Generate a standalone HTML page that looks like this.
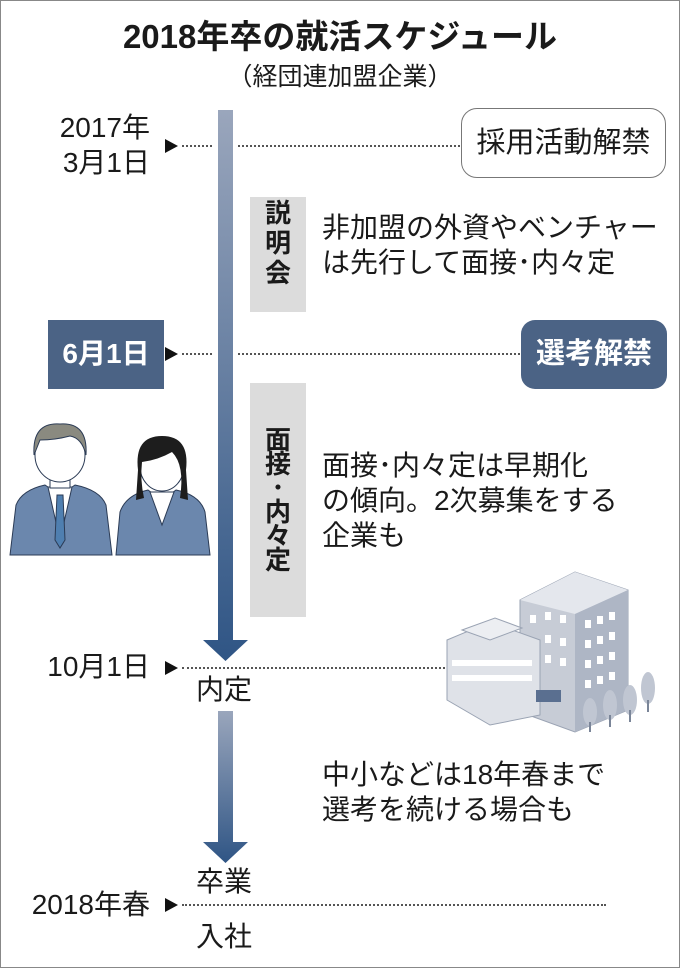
<!DOCTYPE html>
<html><head><meta charset="utf-8"><style>
*{margin:0;padding:0;box-sizing:border-box}
body{width:680px;height:968px;background:#fff;position:relative;overflow:hidden;font-family:"Liberation Sans","Noto Sans CJK JP",sans-serif;color:#1a1a1a}
.frame{position:absolute;left:0;top:0;width:680px;height:968px;border:1px solid #888}
.t{position:absolute;white-space:nowrap;line-height:1}
.dot{position:absolute;height:0;border-top:2px dotted #555}
.tri{position:absolute;width:0;height:0;border-top:7px solid transparent;border-bottom:7px solid transparent;border-left:13px solid #111}
.gbox{position:absolute;background:#dcdcdc;}
.vt{position:absolute;font-weight:bold;font-size:26px;text-align:center;width:56px}
</style></head><body>
<div class="frame"></div>
<div class="t" style="left:0;width:680px;text-align:center;top:20px;font-size:33px;font-weight:bold">2018年卒の就活スケジュール</div>
<div class="t" style="left:0;width:680px;text-align:center;top:65px;font-size:25px">（経団連加盟企業）</div>

<svg style="position:absolute;left:0;top:0" width="680" height="968">
<defs>
<linearGradient id="g1" x1="0" y1="0" x2="0" y2="1"><stop offset="0" stop-color="#9aa6bc"/><stop offset="1" stop-color="#2f5585"/></linearGradient>
<linearGradient id="g2" x1="0" y1="0" x2="0" y2="1"><stop offset="0" stop-color="#9aa6bc"/><stop offset="1" stop-color="#2f5585"/></linearGradient>
</defs>
<path d="M218 110 H233 V640 H248 L225.5 661 L203 640 H218 Z" fill="url(#g1)"/>
<path d="M218 711 H233 V842 H248 L225.5 863 L203 842 H218 Z" fill="url(#g2)"/>
<g>
<path d="M10 555 L16 505 Q22 490 45 485 L60 495 L75 485 Q100 490 106 505 L112 555 Z" fill="#6b87ad" stroke="#2b3b55"/>
<path d="M48 487 L60 540 L72 487 Z" fill="#fff" stroke="#2b3b55"/>
<path d="M57 495 L63 495 L65 540 L60 548 L55 540 Z" fill="#4f7fb0" stroke="#2b3b55"/>
<rect x="50" y="470" width="20" height="18" fill="#fff" stroke="#2b3b55"/>
<ellipse cx="60" cy="455" rx="25" ry="27" fill="#fff" stroke="#2b3b55"/>
<path d="M34 455 Q32 422 60 424 Q88 422 86 455 Q82 438 70 436 Q55 440 40 440 Z" fill="#8a8a80" stroke="#2b3b55"/>
<path d="M116 555 L120 512 Q126 495 148 490 L162 500 L176 490 Q200 495 205 512 L210 555 Z" fill="#6b87ad" stroke="#2b3b55"/>
<path d="M150 492 L162 525 L174 492 Z" fill="#fff" stroke="#2b3b55"/>
<ellipse cx="162" cy="466" rx="22" ry="25" fill="#fff" stroke="#2b3b55"/>
<path d="M138 470 Q134 436 162 436 Q190 436 186 470 L188 500 L180 498 Q185 465 172 452 Q158 460 142 462 Q140 480 144 498 L136 500 Z" fill="#1d1d1d"/>
</g>
<g>
<path d="M520 600 L575 572 L628 590 L628 710 L575 732 L520 712 Z" fill="#c7ccd6" stroke="#9aa3b3"/>
<path d="M520 600 L575 572 L628 590 L575 614 Z" fill="#e4e7ed"/>
<path d="M575 614 L628 590 L628 710 L575 732 Z" fill="#aeb6c5"/>
<path d="M447 640 L490 622 L540 640 L540 715 L490 725 L447 700 Z" fill="#dfe2e8" stroke="#9aa3b3"/>
<path d="M462 630 L495 618 L522 628 L490 640 Z" fill="#eceef2" stroke="#9aa3b3"/>
<rect x="452" y="660" width="80" height="6" fill="#fff"/>
<rect x="452" y="675" width="80" height="6" fill="#fff"/>
<rect x="536" y="690" width="25" height="12" fill="#5a6f90"/>
<g fill="#fff">
<rect x="585" y="620" width="6" height="8"/><rect x="597" y="616" width="6" height="8"/><rect x="609" y="612" width="6" height="8"/>
<rect x="585" y="640" width="6" height="8"/><rect x="597" y="636" width="6" height="8"/><rect x="609" y="632" width="6" height="8"/>
<rect x="585" y="660" width="6" height="8"/><rect x="597" y="656" width="6" height="8"/><rect x="609" y="652" width="6" height="8"/>
<rect x="585" y="680" width="6" height="8"/><rect x="597" y="676" width="6" height="8"/><rect x="609" y="672" width="6" height="8"/>
<rect x="530" y="615" width="6" height="8"/><rect x="545" y="612" width="6" height="8"/><rect x="560" y="615" width="6" height="8"/>
<rect x="545" y="635" width="6" height="8"/><rect x="560" y="638" width="6" height="8"/>
<rect x="545" y="655" width="6" height="8"/><rect x="560" y="658" width="6" height="8"/>
</g>
<ellipse cx="648" cy="688" rx="7" ry="16" fill="#c0c6d2"/><rect x="647" y="700" width="2" height="12" fill="#7a8598"/>
<ellipse cx="630" cy="700" rx="7" ry="15" fill="#c0c6d2"/><rect x="629" y="710" width="2" height="12" fill="#7a8598"/>
<ellipse cx="610" cy="705" rx="7" ry="15" fill="#c0c6d2"/><rect x="609" y="715" width="2" height="12" fill="#7a8598"/>
<ellipse cx="590" cy="712" rx="7" ry="14" fill="#c0c6d2"/><rect x="589" y="722" width="2" height="10" fill="#7a8598"/>
</g>
</svg>

<div class="t" style="left:20px;width:130px;text-align:right;top:110px;font-size:28px;line-height:35px">2017年<br>3月1日</div>
<div class="tri" style="left:165px;top:139px"></div>
<div class="dot" style="left:182px;top:145px;width:30px"></div>
<div class="dot" style="left:238px;top:145px;width:222px"></div>
<div style="position:absolute;left:461px;top:108px;width:205px;height:70px;border:1px solid #777;border-radius:16px"></div>
<div class="t" style="left:461px;width:205px;text-align:center;top:129px;font-size:29px">採用活動解禁</div>

<div class="gbox" style="left:250px;top:197px;width:56px;height:115px"></div>
<div class="vt" style="left:250px;top:198px;line-height:30px">説<br>明<br>会</div>
<div class="t" style="left:322px;top:210px;font-size:28px;line-height:35px">非加盟の外資やベンチャー<br>は先行して面接･内々定</div>

<div style="position:absolute;left:48px;top:320px;width:116px;height:69px;background:#4b6385"></div>
<div class="t" style="left:48px;width:116px;text-align:center;top:340px;font-size:28px;font-weight:bold;color:#fff">6月1日</div>
<div class="tri" style="left:165px;top:347px"></div>
<div class="dot" style="left:182px;top:353px;width:30px"></div>
<div class="dot" style="left:238px;top:353px;width:282px"></div>
<div style="position:absolute;left:521px;top:320px;width:146px;height:69px;background:#4b6385;border-radius:14px"></div>
<div class="t" style="left:521px;width:146px;text-align:center;top:340px;font-size:29px;font-weight:bold;color:#fff">選考解禁</div>

<div class="gbox" style="left:250px;top:383px;width:56px;height:234px"></div>
<div class="vt" style="left:250px;top:428px;line-height:24px">面<br>接<br>･<br>内<br>々<br>定</div>
<div class="t" style="left:322px;top:448px;font-size:28px;line-height:35px">面接･内々定は早期化<br>の傾向。2次募集をする<br>企業も</div>

<div class="t" style="left:20px;width:130px;text-align:right;top:653px;font-size:28px">10月1日</div>
<div class="tri" style="left:165px;top:661px"></div>
<div class="dot" style="left:182px;top:667px;width:263px"></div>
<div class="t" style="left:196px;top:676px;font-size:28px">内定</div>

<div class="t" style="left:322px;top:757px;font-size:28px;line-height:35px">中小などは18年春まで<br>選考を続ける場合も</div>

<div class="t" style="left:196px;top:868px;font-size:28px">卒業</div>
<div class="t" style="left:0px;width:150px;text-align:right;top:891px;font-size:28px">2018年春</div>
<div class="tri" style="left:165px;top:898px"></div>
<div class="dot" style="left:182px;top:904px;width:424px"></div>
<div class="t" style="left:196px;top:923px;font-size:28px">入社</div>
</body></html>
